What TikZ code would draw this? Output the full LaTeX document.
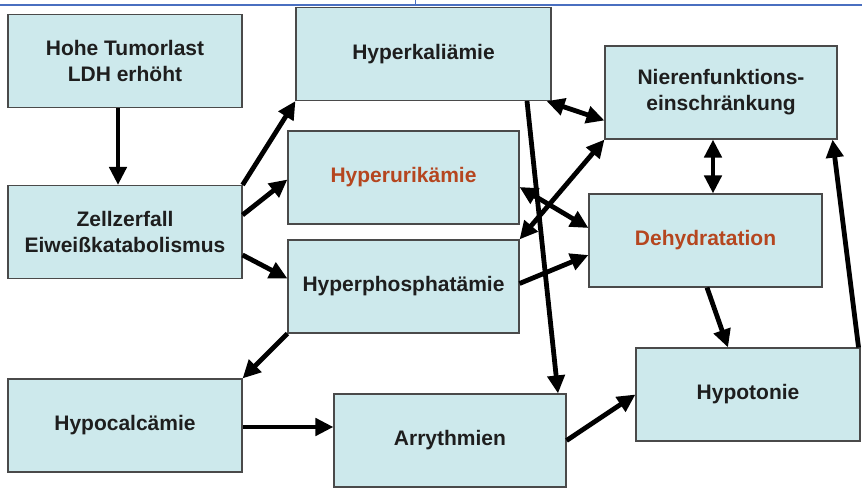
\documentclass[tikz,border=0pt]{standalone}
\usepackage{fontspec}
\setmainfont{Liberation Sans}
\usetikzlibrary{arrows.meta}
\definecolor{boxfill}{HTML}{CDE9EC}
\definecolor{boxline}{HTML}{4A4A4A}
\definecolor{txt}{HTML}{1E1E1E}
\definecolor{orangetxt}{HTML}{B5461F}
\definecolor{topblue}{HTML}{4A6FC0}
\begin{document}
\begin{tikzpicture}[x=1pt,y=-1pt,
  box/.style={draw=boxline,fill=boxfill,line width=1.1pt,inner sep=0pt,
    minimum height=93pt,align=center,text=txt,
    font=\fontsize{21}{26}\selectfont\bfseries},
  conn/.style={line width=4.8pt,draw=black,-{Triangle[length=18pt,width=17pt]}},
  dconn/.style={line width=4.8pt,draw=black,{Triangle[length=18pt,width=17pt]}-{Triangle[length=18pt,width=17pt]}},
  orange/.style={text=orangetxt}]
\useasboundingbox (0,0) rectangle (862,489);
\fill[white] (0,0) rectangle (862,489);
% top screen lines
\coordinate (tl) at (0,5);
\coordinate (tr) at (862,5);
\coordinate (vt) at (415,0);
\coordinate (vb) at (415,5);
\draw[topblue,line width=1.2pt] (tl) -- (tr);
\draw[topblue,line width=1pt] (vt) -- (vb);
% boxes
\node[box,minimum width=234pt] (hohe) at (125,61) {Hohe Tumorlast\\LDH erhöht};
\node[box,minimum width=255pt] (hyperk) at (423.5,54) {Hyperkaliämie};
\node[box,minimum width=232pt] (nieren) at (721,92.5) {Nierenfunktions-\\einschränkung};
\node[box,minimum width=231pt,orange] (hyperu) at (403.5,177.5) {Hyperurikämie};
\node[box,minimum width=234pt] (zell) at (125,232) {Zellzerfall\\Eiweißkatabolismus};
\node[box,minimum width=231pt] (hyperp) at (403.5,286.5) {Hyperphosphatämie};
\node[box,minimum width=233pt,orange] (dehyd) at (705.5,240.5) {Dehydratation};
\node[box,minimum width=234pt] (hypoca) at (125,425.5) {Hypocalcämie};
\node[box,minimum width=232pt] (arry) at (450,440.5) {Arrythmien};
\node[box,minimum width=224pt] (hypot) at (748,394.5) {Hypotonie};
% connectors
\draw[conn] ([xshift=-7pt]hohe.south) -- ([xshift=-7pt]zell.north);
\draw[conn] (zell.north east) -- (hyperk.south west);
\draw[conn] ([yshift=17pt]zell.east) -- ([yshift=-2pt]hyperu.west);
\draw[conn] ([yshift=-23pt]zell.east) -- ([yshift=8pt]hyperp.west);
\draw[dconn] ([xshift=-5pt]hyperk.south east) -- ([yshift=-28pt]nieren.west);
\draw[conn] ([xshift=103.5pt]hyperk.south) -- ([xshift=108pt]arry.north);
\draw[dconn] ([yshift=-9.5pt]hyperu.east) -- ([yshift=12.5pt]dehyd.west);
\draw[dconn] (hyperp.north east) -- (nieren.south west);
\draw[conn] ([yshift=3pt]hyperp.east) -- ([yshift=-14.5pt]dehyd.west);
\draw[dconn] ([xshift=-8pt]nieren.south) -- ([xshift=7.5pt]dehyd.north);
\draw[conn] ([xshift=1.5pt]dehyd.south) -- ([xshift=-20pt]hypot.north);
\draw[conn] ([xshift=-2pt]hypot.north east) -- ([xshift=-5pt]nieren.south east);
\draw[conn] (hyperp.south west) -- (hypoca.north east);
\draw[conn] ([yshift=-1.5pt]hypoca.east) -- ([yshift=-1.5pt]hypoca.east -| arry.west);
\draw[conn] (arry.east) -- (hypot.west);
\end{tikzpicture}
\end{document}
